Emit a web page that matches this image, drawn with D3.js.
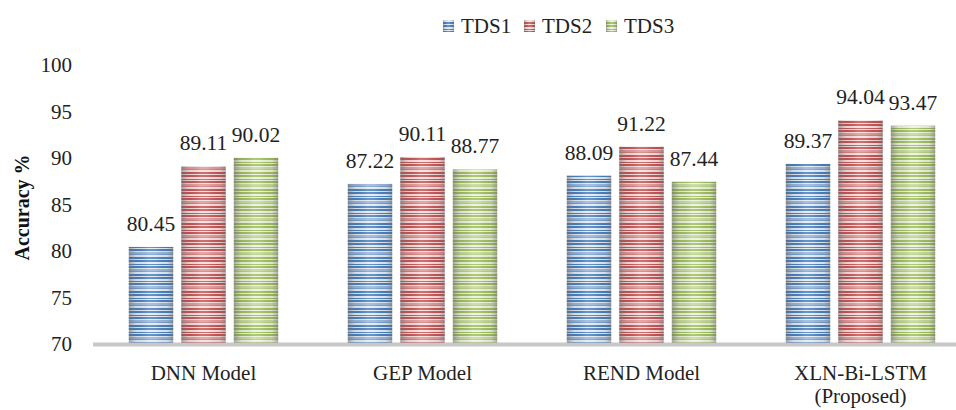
<!DOCTYPE html>
<html>
<head>
<meta charset="utf-8">
<script src="https://cdn.jsdelivr.net/npm/d3@7"></script>
<style>
  html, body { margin: 0; padding: 0; background: #fff; }
  svg { display: block; }
  text { font-family: "Liberation Serif", "Times New Roman", serif; fill: #222; }
</style>
</head>
<body>
<svg id="chart" width="956" height="410"></svg>
<script>
const categories = ["DNN Model", "GEP Model", "REND Model", "XLN-Bi-LSTM\n(Proposed)"];
const seriesNames = ["TDS1", "TDS2", "TDS3"];
const tds1 = [80.45, 87.22, 88.09, 89.37];
const tds2 = [89.11, 90.11, 91.22, 94.04];
const tds3 = [90.02, 88.77, 87.44, 93.47];
const yTicks = [70, 75, 80, 85, 90, 95, 100];
const yLabel = "Accuracy %";

const seriesValues = [tds1, tds2, tds3];
const palette = [
  { base: "#3e77ba", light: "#dfe8f3" },
  { base: "#c2494a", light: "#f5dada" },
  { base: "#98b954", light: "#e9f0d8" }
];

const svg = d3.select("#chart");
const defs = svg.append("defs");

// striped patterns
palette.forEach((c, i) => {
  const p = defs.append("pattern")
    .attr("id", "stripe" + i)
    .attr("patternUnits", "userSpaceOnUse")
    .attr("width", 10).attr("height", 17);
  p.append("rect").attr("width", 10).attr("height", 17).attr("fill", c.base);
  [[0, 2], [4, 1], [7, 2], [10, 1], [13, 1.5], [15.5, 0.8]].forEach(([yy, h]) => {
    p.append("rect").attr("x", 0).attr("y", yy).attr("width", 10).attr("height", h).attr("fill", c.light);
  });
});
// cylindrical shading
const g = defs.append("linearGradient").attr("id", "shade").attr("x1", "0").attr("x2", "1").attr("y1", "0").attr("y2", "0");
[[0, "#6a6a6a", 0.55], [0.18, "#808080", 0.12], [0.45, "#ffffff", 0.22], [0.6, "#ffffff", 0.18], [0.85, "#808080", 0.1], [1, "#6a6a6a", 0.5]]
  .forEach(([o, col, op]) => g.append("stop").attr("offset", o).attr("stop-color", col).attr("stop-opacity", op));

const y = d3.scaleLinear().domain([70, 100]).range([344, 65]);
const x0 = d3.scaleBand().domain(categories).range([94, 970]).paddingInner(0.318).paddingOuter(0.159);
const x1 = d3.scaleBand().domain(seriesNames).range([0, x0.bandwidth()]).paddingInner(0.155);

// y tick labels
svg.append("g").selectAll("text").data(yTicks).join("text")
  .attr("x", 72).attr("y", d => y(d)).attr("dy", "0.35em")
  .attr("text-anchor", "end").style("font-size", "21px")
  .text(d => d);

// y label
svg.append("text")
  .attr("transform", `translate(29,${(y(70) + y(100)) / 2 + 3}) rotate(-90)`)
  .attr("text-anchor", "middle")
  .style("font-size", "20px").style("font-weight", "bold").style("fill", "#111")
  .text(yLabel);

// bars
const groups = svg.append("g").selectAll("g").data(categories).join("g")
  .attr("transform", d => `translate(${x0(d)},0)`);

groups.each(function (cat, ci) {
  const gg = d3.select(this);
  const data = seriesNames.map((s, si) => ({ s, si, v: seriesValues[si][ci] }));
  gg.selectAll("rect.bar").data(data).join("rect")
    .attr("class", "bar")
    .attr("x", d => x1(d.s)).attr("width", x1.bandwidth())
    .attr("y", d => y(d.v)).attr("height", d => y(70) - y(d.v))
    .attr("fill", d => `url(#stripe${d.si})`);
  gg.selectAll("rect.shade").data(data).join("rect")
    .attr("class", "shade")
    .attr("x", d => x1(d.s)).attr("width", x1.bandwidth())
    .attr("y", d => y(d.v)).attr("height", d => y(70) - y(d.v))
    .attr("fill", "url(#shade)");
  gg.selectAll("text.val").data(data).join("text")
    .attr("class", "val")
    .attr("x", d => x1(d.s) + x1.bandwidth() / 2)
    .attr("y", d => y(d.v) - 16)
    .attr("text-anchor", "middle").style("font-size", "21.5px")
    .text(d => d.v.toFixed(2));
});

// x axis line
svg.append("line")
  .attr("x1", 93).attr("x2", 970)
  .attr("y1", y(70) + 0.5).attr("y2", y(70) + 0.5)
  .attr("stroke", "#c8c8c8").attr("stroke-width", 4);

// category labels
svg.append("g").selectAll("text").data(categories).join("text")
  .attr("x", d => x0(d) + x0.bandwidth() / 2)
  .attr("y", 380)
  .attr("text-anchor", "middle").style("font-size", "21px")
  .each(function (d) {
    const lines = d.split("\n");
    d3.select(this).selectAll("tspan").data(lines).join("tspan")
      .attr("x", x0(d) + x0.bandwidth() / 2)
      .attr("dy", (l, i) => i === 0 ? 0 : 23)
      .text(l => l);
  });

// legend
const legendX = [443, 524, 606];
const legend = svg.append("g").selectAll("g").data(seriesNames).join("g")
  .attr("transform", (d, i) => `translate(${legendX[i]},20)`);
legend.append("rect").attr("width", 11).attr("height", 12).attr("fill", (d, i) => `url(#stripe${i})`);
legend.append("rect").attr("width", 11).attr("height", 12).attr("fill", "url(#shade)");
legend.append("text").attr("x", 18).attr("y", 6).attr("dy", "0.35em")
  .style("font-size", "21px").text(d => d);
</script>
</body>
</html>
